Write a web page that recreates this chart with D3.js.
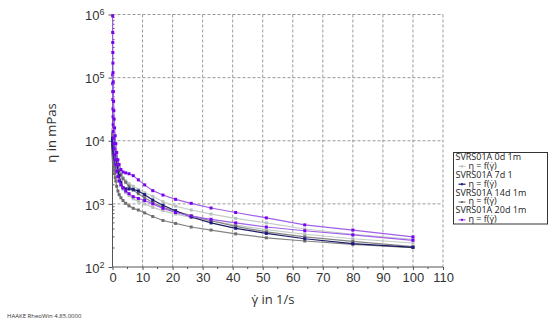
<!DOCTYPE html>
<html>
<head>
<meta charset="utf-8">
<script src="https://cdn.jsdelivr.net/npm/d3@7"></script>
<style>
  body { margin: 0; background: #fff; }
  svg { font-family: "Open Sans", "Noto Sans", sans-serif; }
  .grid line { stroke: #9a9a9a; stroke-dasharray: 3,2; }
  .curve { fill: none; stroke-width: 1.2; }
</style>
</head>
<body>
<svg width="550" height="326"></svg>
<script>
// shear rate (1/s), shared by every curve
var shearRate = [100, 80, 64, 51.2, 41, 32.8, 26.2, 21, 16.8, 13.4, 10.7, 8.6, 6.9, 5.5, 4.4, 3.5, 2.8, 2.2, 1.8, 1.4, 1.1,
                 0.9, 0.7, 0.55, 0.45, 0.35, 0.28, 0.22, 0.18, 0.14, 0.11, 0.09, 0.07, 0.05];

// viscosity in mPas
var eta0dA = [275, 330, 400, 500, 590, 690, 800, 920, 1080, 1320, 1500, 1700, 1900, 2100, 2300, 2600, 2900, 3300, 3800, 4500, 5500,
              6200, 7000, 7800, 8500, 9200, 10000, 10800, 11500, 12200, 13000, 13500, 14000, 15000];
var eta0dB = [240, 280, 330, 390, 460, 540, 610, 690, 780, 880, 1000, 1100, 1200, 1350, 1500, 1700, 1950, 2300, 2700, 3200, 3800,
              4200, 4800, 5300, 6000, 6600, 7500, 8200, 9000, 9600, 10200, 10800, 11300, 12000];
var eta7d = [205, 235, 280, 340, 410, 500, 620, 780, 950, 1150, 1400, 1600, 1700, 1720, 1730, 1800, 2200, 2800, 3200, 3800, 4500,
             5000, 5500, 6000, 6500, 7000, 7500, 8000, 8500, 9000, 9500, 10000, 10500, 11000];
var eta14dA = [210, 255, 300, 360, 440, 540, 650, 760, 880, 1050, 1250, 1450, 1650, 1900, 2200, 2500, 2900, 3400, 4000, 4800, 5800,
               6400, 7000, 7600, 8200, 8800, 9300, 9800, 10300, 10800, 11300, 11800, 12300, 13000];
var eta14dB = [203, 228, 258, 290, 335, 385, 430, 490, 545, 630, 720, 800, 850, 930, 1020, 1130, 1250, 1400, 1600, 1900, 2300,
               2600, 3000, 3400, 3800, 4300, 4800, 5300, 5800, 6300, 6800, 7300, 7800, 8500];
var eta20dA = [300, 385, 465, 600, 730, 860, 1020, 1180, 1380, 1620, 2000, 2400, 2800, 3000, 3100, 3200, 3500, 4200, 5000, 6500, 9000,
               12000, 16000, 22000, 30000, 42000, 60000, 85000, 120000, 170000, 250000, 360000, 520000, 950000];
var eta20dB = [265, 322, 375, 430, 500, 570, 640, 730, 850, 1000, 1130, 1220, 1300, 1450, 1600, 1800, 2000, 2300, 2700, 3300, 4200,
               5000, 6000, 7500, 9000, 11000, 14000, 18000, 24000, 32000, 45000, 60000, 80000, 110000];

var seriesNames = ["SVRS01A 0d 1m", "SVRS01A 7d 1", "SVRS01A 14d 1m", "SVRS01A 20d 1m"];
var xTicks = [0, 10, 20, 30, 40, 50, 60, 70, 80, 90, 100, 110];
var yTicks = [1e2, 1e3, 1e4, 1e5, 1e6];

var colors = [
  {line: "#c4ccc8", mark: "#b8c0bc"},
  {line: "#1c1c66", mark: "#1c1c80"},
  {line: "#848484", mark: "#6e6e6e"},
  {line: "#a060e8", mark: "#7a00f0"}
];

var curves = [
  {s: 0, v: eta0dA}, {s: 0, v: eta0dB},
  {s: 2, v: eta14dA}, {s: 2, v: eta14dB},
  {s: 1, v: eta7d},
  {s: 3, v: eta20dB}, {s: 3, v: eta20dA}
];

var svg = d3.select("svg");

var x = d3.scaleLinear().domain([0, 110]).range([112.5, 443]);
var y = d3.scaleLog().domain([1e2, 1e6]).range([267, 14.5]);

// grid
var grid = svg.append("g").attr("class", "grid");
grid.selectAll(".gx").data(xTicks.slice(1)).enter().append("line")
    .attr("x1", function(d) { return x(d); }).attr("x2", function(d) { return x(d); })
    .attr("y1", y(1e6)).attr("y2", y(1e2));
grid.selectAll(".gy").data(yTicks.slice(1)).enter().append("line")
    .attr("x1", x(0)).attr("x2", x(110))
    .attr("y1", function(d) { return y(d); }).attr("y2", function(d) { return y(d); });

// axes (drawn before the curves so the low-shear streak sits on top)
var xAxis = d3.axisBottom(x).tickValues(xTicks).tickSize(3).tickPadding(3).tickFormat(d3.format("d"));
var gx = svg.append("g").attr("transform", "translate(0," + y(1e2) + ")").call(xAxis);
gx.select(".domain").attr("stroke", "#555").attr("d", "M" + x(0) + ",0H" + x(110));
gx.selectAll("text").attr("font-size", 13).attr("fill", "#333");
gx.selectAll("line").attr("stroke", "#555");
gx.selectAll(".minor").data(d3.range(5, 110, 10)).enter().append("line")
    .attr("x1", function(d) { return x(d); }).attr("x2", function(d) { return x(d); })
    .attr("y1", 0).attr("y2", 2).attr("stroke", "#555");

var yAxis = d3.axisLeft(y).tickValues(yTicks).tickSize(4).tickPadding(4).tickFormat("");
var gy = svg.append("g").attr("transform", "translate(" + x(0) + ",0)").call(yAxis);
gy.select(".domain").attr("stroke", "#555").attr("d", "M0," + y(1e6) + "V" + y(1e2));
gy.selectAll("line").attr("stroke", "#555");
gy.selectAll(".tick text").each(function(d) {
  var t = d3.select(this).attr("font-size", 13).attr("fill", "#333").attr("dy", "0.4em");
  t.append("tspan").text("10");
  t.append("tspan").attr("font-size", 9).attr("dy", "-0.55em").text(Math.round(Math.log10(d)));
});
var minors = [];
for (var e = 2; e < 6; e++) for (var m = 2; m < 10; m++) minors.push(m * Math.pow(10, e));
gy.selectAll(".minor").data(minors).enter().append("line")
    .attr("x1", 0).attr("x2", 2)
    .attr("y1", function(d) { return y(d); }).attr("y2", function(d) { return y(d); })
    .attr("stroke", "#555");

// curves
var line = d3.line()
    .x(function(d) { return x(d[0]); })
    .y(function(d) { return y(d[1]); });

curves.forEach(function(c) {
  var pts = shearRate.map(function(r, i) { return [r, c.v[i]]; });
  svg.append("path")
      .attr("class", "curve")
      .attr("stroke", colors[c.s].line)
      .attr("d", line(pts));
  svg.append("g").selectAll("rect").data(pts).enter().append("rect")
      .attr("x", function(d) { return x(d[0]) - 1.5; })
      .attr("y", function(d) { return y(d[1]) - 1.5; })
      .attr("width", 3).attr("height", 3)
      .attr("fill", colors[c.s].mark);
});

// axis titles
svg.append("text").attr("x", 273).attr("y", 304).attr("text-anchor", "middle")
    .attr("font-size", 13).attr("fill", "#333").text("\u03B3\u0307 in 1/s");
svg.append("text").attr("transform", "translate(56,133) rotate(-90)").attr("text-anchor", "middle")
    .attr("font-size", 13).attr("fill", "#333").text("\u03B7 in mPas");

svg.append("text").attr("x", 7).attr("y", 318).attr("font-size", 6).attr("fill", "#333")
    .text("HAAKE RheoWin 4.85.0000");

// legend
var leg = svg.append("g").attr("transform", "translate(453.5,152.5)");
leg.append("rect").attr("width", 94).attr("height", 71.5).attr("fill", "#fff").attr("stroke", "#333");
seriesNames.forEach(function(n, i) {
  var ty = 5 + i * 17.8;
  leg.append("text").attr("x", 2).attr("y", ty).attr("font-size", 9).attr("fill", "#222")
      .attr("dominant-baseline", "middle").text(n);
  leg.append("line").attr("x1", 5).attr("x2", 12).attr("y1", ty + 8.9).attr("y2", ty + 8.9)
      .attr("stroke", colors[i].line).attr("stroke-width", 1.2);
  leg.append("rect").attr("x", 7.5).attr("y", ty + 7.9).attr("width", 2).attr("height", 2).attr("fill", colors[i].mark);
  leg.append("text").attr("x", 15).attr("y", ty + 8.9).attr("font-size", 9).attr("fill", "#222")
      .attr("dominant-baseline", "middle").text("\u03B7 = f(\u03B3\u0307)");
});
</script>
</body>
</html>
